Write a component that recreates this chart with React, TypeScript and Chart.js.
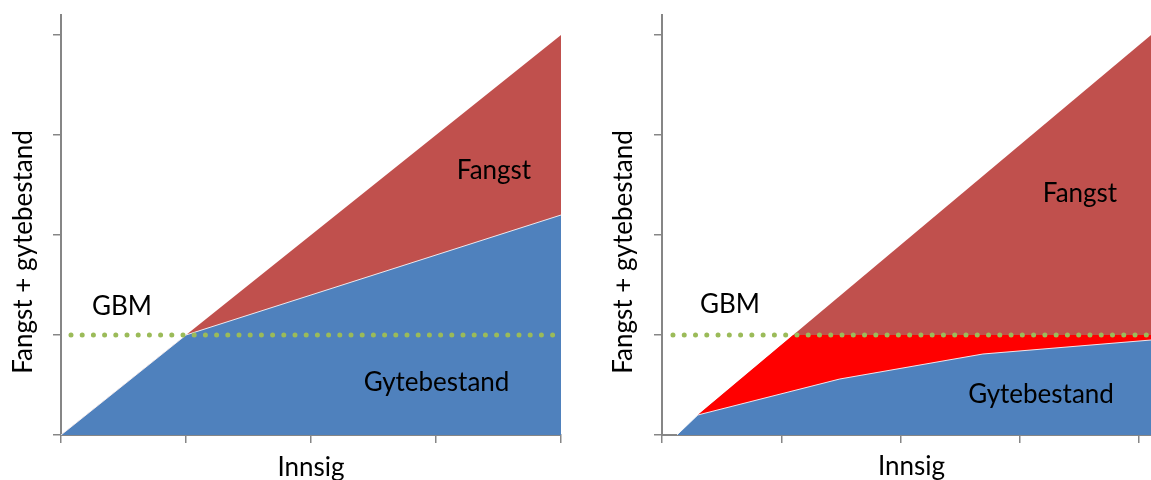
import React, { useEffect, useRef } from 'react';
import { Chart, registerables } from 'chart.js';

Chart.register(...registerables);

// ---------- data ----------
const xTickValues = [0, 1, 2, 3, 4];
const gbmLevel = 1;

// Left panel
const leftX = [0, 1, 4];
const leftGytebestand = [0, 1, 2.2];
const leftTotal = [0, 1, 4];
const leftGbmX = [0, 4];

// Right panel
const rightGyteX = [0.125, 0.3, 1.49, 2.69, 4.1];
const rightGyteY = [0, 0.2, 0.56, 0.81, 0.95];
const rightBelowGbmX = [0.3, 1.1, 4.1];
const rightBelowGbmY = [0.2, 1, 1];
const rightTotalX = [0.3, 4.1];
const rightTotalY = [0.2, 4.0];
const rightGbmX = [0, 4.2];

const labelTexts = {
  yTitle: 'Fangst + gytebestand',
  xTitle: 'Innsig',
  gbm: 'GBM',
  fangst: 'Fangst',
  gyte: 'Gytebestand',
};

// ---------- style ----------
const BLUE = '#4F81BD';
const DARK_RED = '#C0504D';
const RED = '#FF0000';
const GREEN = '#9BBB59';
const AXIS = '#868686';
const FONT = '26px Lato';

const pts = (xs: number[], ys: number[]) => xs.map((x, i) => ({ x, y: ys[i] }));

type Label = { text: string; x: number; y: number; rotate?: boolean };

function textPlugin(labels: Label[]) {
  return {
    id: 'texts',
    afterDraw(chart: any) {
      const ctx = chart.ctx as CanvasRenderingContext2D;
      ctx.save();
      ctx.fillStyle = '#000';
      ctx.font = FONT;
      ctx.textAlign = 'center';
      ctx.textBaseline = 'alphabetic';
      for (const l of labels) {
        if (l.rotate) {
          ctx.save();
          ctx.translate(l.x, l.y);
          ctx.rotate(-Math.PI / 2);
          ctx.fillText(l.text, 0, 0);
          ctx.restore();
        } else {
          ctx.fillText(l.text, l.x, l.y);
        }
      }
      ctx.restore();
    },
  };
}

function scales(xMax: number, yWidth: number) {
  const grid = {
    drawOnChartArea: false,
    drawTicks: true,
    tickLength: 8,
    color: AXIS,
    lineWidth: 1.5,
  };
  return {
    x: {
      type: 'linear',
      min: 0,
      max: xMax,
      afterBuildTicks: (s: any) => {
        s.ticks = xTickValues.map((v) => ({ value: v }));
      },
      ticks: { display: false },
      grid,
      border: { display: true, color: AXIS, width: 2 },
      afterFit: (s: any) => {
        s.height = 45;
      },
    },
    y: {
      type: 'linear',
      min: 0,
      max: 4.2,
      ticks: { display: false, stepSize: 1, includeBounds: false },
      grid,
      border: { display: true, color: AXIS, width: 2 },
      afterFit: (s: any) => {
        s.width = yWidth;
      },
    },
  };
}

function gbmDataset(xs: number[], dashOffset: number, gap: number) {
  return {
    data: pts(xs, xs.map(() => gbmLevel)),
    borderColor: GREEN,
    borderWidth: 5,
    borderDash: [0, gap],
    borderDashOffset: dashOffset,
    borderCapStyle: 'round',
    pointRadius: 0,
    fill: false,
  };
}

function areaDataset(data: any[], color: string, border = 0) {
  return {
    data,
    backgroundColor: color,
    borderColor: border ? 'rgba(255,255,255,0.85)' : color,
    borderWidth: border,
    pointRadius: 0,
    fill: 'origin',
    tension: 0,
  };
}

function Panel({ left, width, config }: { left: number; width: number; config: any }) {
  const ref = useRef<HTMLCanvasElement>(null);
  useEffect(() => {
    const chart = new Chart(ref.current as HTMLCanvasElement, config);
    return () => chart.destroy();
  }, []);
  return (
    <canvas
      ref={ref}
      width={width}
      height={480}
      style={{ position: 'absolute', left, top: 0, width, height: 480 }}
    />
  );
}

const commonOptions = (xMax: number, yWidth: number, rightPad: number) => ({
  responsive: false,
  animation: false,
  devicePixelRatio: 1,
  layout: { padding: { top: 15, right: rightPad, left: 0, bottom: 0 } },
  plugins: { legend: { display: false }, tooltip: { enabled: false }, title: { display: false } },
  events: [],
  scales: scales(xMax, yWidth),
});

const leftConfig = {
  type: 'line',
  data: {
    datasets: [
      gbmDataset(leftGbmX, 1.2, 11.2),
      areaDataset(pts(leftX, leftGytebestand), BLUE, 1),
      areaDataset(pts(leftX, leftTotal), DARK_RED),
    ],
  },
  options: commonOptions(4, 61, 19),
  plugins: [
    textPlugin([
      { text: labelTexts.yTitle, x: 32, y: 252, rotate: true },
      { text: labelTexts.gbm, x: 122, y: 315 },
      { text: labelTexts.fangst, x: 494, y: 179 },
      { text: labelTexts.gyte, x: 436.5, y: 391 },
      { text: labelTexts.xTitle, x: 311, y: 476 },
    ]),
  ],
};

const rightConfig = {
  type: 'line',
  data: {
    datasets: [
      gbmDataset(rightGbmX, 0.3, 11.27),
      areaDataset(pts(rightGyteX, rightGyteY), BLUE, 1),
      areaDataset(pts(rightBelowGbmX, rightBelowGbmY), RED),
      areaDataset(pts(rightTotalX, rightTotalY), DARK_RED),
    ],
  },
  options: commonOptions(4.2, 62, 37),
  plugins: [
    textPlugin([
      { text: labelTexts.yTitle, x: 32, y: 252, rotate: true },
      { text: labelTexts.gbm, x: 130, y: 313 },
      { text: labelTexts.fangst, x: 480, y: 202 },
      { text: labelTexts.gyte, x: 441, y: 403 },
      { text: labelTexts.xTitle, x: 311.5, y: 475 },
    ]),
  ],
};

export default function App() {
  return (
    <div
      style={{
        position: 'absolute',
        left: 0,
        top: 0,
        width: 1151,
        height: 480,
        overflow: 'hidden',
        background: '#fff',
      }}
    >
      <Panel left={0} width={580} config={leftConfig} />
      <Panel left={600} width={600} config={rightConfig} />
    </div>
  );
}
